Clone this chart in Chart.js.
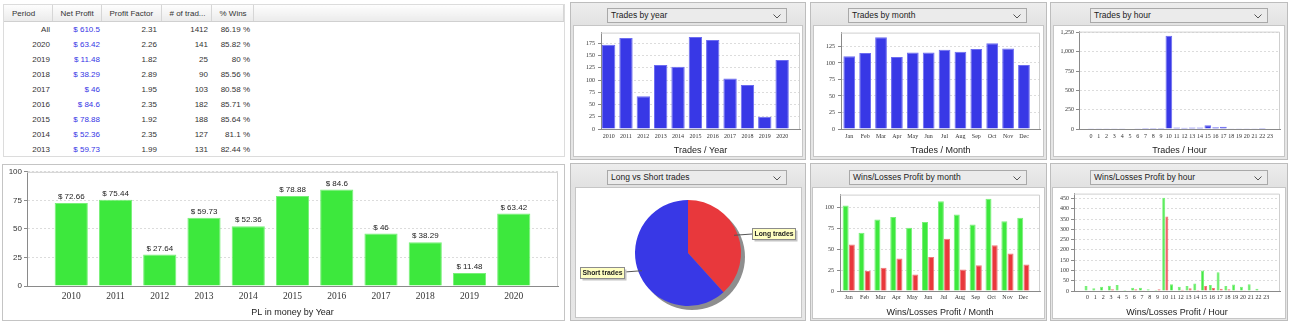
<!DOCTYPE html>
<html>
<head>
<meta charset="utf-8">
<script src="https://cdn.jsdelivr.net/npm/chart.js@4.4.0/dist/chart.umd.min.js"></script>
<style>
  body { margin: 0; width: 1290px; height: 324px; background: #fff; position: relative; overflow: hidden; font-family: "Liberation Sans", Arial, sans-serif; }
  .panel { position: absolute; box-sizing: border-box; border: 1px solid #bdbdbd; background: linear-gradient(#ededed, #e2e2e2 22px, #e6e6e6); }
  .inner { position: absolute; box-sizing: border-box; border: 1px solid #c6c6c6; background: #fff; }
  .dd { position: absolute; box-sizing: border-box; height: 15px; border: 1px solid #a9a9a9; background: #ebebeb; font-size: 8.5px; color: #222; line-height: 13px; padding-left: 3px; }
  .dd svg { position: absolute; right: 5px; top: 5px; }
  canvas { position: absolute; }
  #tabela { position: absolute; left: 3px; top: 4px; width: 562px; height: 153px; border: 1px solid #dcdcdc; box-sizing: border-box; overflow: hidden; background: #fff; }
  #tabela table { border-collapse: collapse; table-layout: fixed; width: 100%; font-size: 8px; color: #333; }
  #tabela th { height: 16px; font-weight: normal; text-align: left; padding: 0 0 0 8px; background: linear-gradient(#fdfdfd, #ebebeb); border-right: 1px solid #d6d6d6; border-bottom: 1px solid #d0d0d0; white-space: nowrap; overflow: hidden; }
  #tabela td { height: 15px; line-height: 15px; text-align: right; padding: 0; white-space: nowrap; }
  #tabela td.azul { color: #3535e5; }
  #painelPL { position: absolute; left: 2px; top: 164px; width: 563px; height: 157px; border: 1px solid #c4c4c4; box-sizing: border-box; }
</style>
</head>
<body>

<div id="tabela">
  <table>
    <colgroup>
      <col style="width:48px"><col style="width:49px"><col style="width:60px"><col style="width:50px"><col style="width:42px"><col>
    </colgroup>
    <thead>
      <tr><th>Period</th><th>Net Profit</th><th>Profit Factor</th><th># of trad...</th><th>% Wins</th><th></th></tr>
    </thead>
    <tbody id="corpo"></tbody>
  </table>
</div>

<div id="painelPL"></div>

<!-- linha de cima -->
<div class="panel" style="left:570px;top:2px;width:236px;height:158px"></div>
<div class="inner" style="left:573px;top:25px;width:230px;height:132px"></div>
<div class="dd" style="left:607px;top:8px;width:180px">Trades by year<svg width="8" height="5"><polyline points="0.5,0.5 4,4 7.5,0.5" fill="none" stroke="#555"/></svg></div>

<div class="panel" style="left:810px;top:2px;width:237px;height:158px"></div>
<div class="inner" style="left:813px;top:25px;width:231px;height:132px"></div>
<div class="dd" style="left:848px;top:8px;width:179px">Trades by month<svg width="8" height="5"><polyline points="0.5,0.5 4,4 7.5,0.5" fill="none" stroke="#555"/></svg></div>

<div class="panel" style="left:1050px;top:2px;width:238px;height:158px"></div>
<div class="inner" style="left:1053px;top:25px;width:232px;height:132px"></div>
<div class="dd" style="left:1090px;top:8px;width:178px">Trades by hour<svg width="8" height="5"><polyline points="0.5,0.5 4,4 7.5,0.5" fill="none" stroke="#555"/></svg></div>

<!-- linha de baixo -->
<div class="panel" style="left:570px;top:163px;width:236px;height:158px"></div>
<div class="inner" style="left:575px;top:187px;width:227px;height:131px"></div>
<div class="dd" style="left:607px;top:170px;width:180px">Long vs Short trades<svg width="8" height="5"><polyline points="0.5,0.5 4,4 7.5,0.5" fill="none" stroke="#555"/></svg></div>

<div class="panel" style="left:810px;top:163px;width:237px;height:158px"></div>
<div class="inner" style="left:812px;top:187px;width:233px;height:132px"></div>
<div class="dd" style="left:849px;top:170px;width:178px">Wins/Losses Profit by month<svg width="8" height="5"><polyline points="0.5,0.5 4,4 7.5,0.5" fill="none" stroke="#555"/></svg></div>

<div class="panel" style="left:1050px;top:163px;width:238px;height:158px"></div>
<div class="inner" style="left:1052px;top:187px;width:234px;height:132px"></div>
<div class="dd" style="left:1090px;top:170px;width:178px">Wins/Losses Profit by hour<svg width="8" height="5"><polyline points="0.5,0.5 4,4 7.5,0.5" fill="none" stroke="#555"/></svg></div>

<canvas id="chart-pl-ano" width="561" height="155" style="left:3px;top:165px"></canvas>
<canvas id="chart-trades-ano" width="228" height="130" style="left:574px;top:26px"></canvas>
<canvas id="chart-trades-mes" width="229" height="130" style="left:814px;top:26px"></canvas>
<canvas id="chart-trades-hora" width="230" height="130" style="left:1054px;top:26px"></canvas>
<canvas id="chart-long-short" width="225" height="129" style="left:576px;top:188px"></canvas>
<canvas id="chart-wl-mes" width="231" height="130" style="left:813px;top:188px"></canvas>
<canvas id="chart-wl-hora" width="232" height="130" style="left:1053px;top:188px"></canvas>

<script>
// --- tabela de resumo ---
const periodos = ["All", "2020", "2019", "2018", "2017", "2016", "2015", "2014", "2013"];
const lucroLiquido = [610.5, 63.42, 11.48, 38.29, 46, 84.6, 78.88, 52.36, 59.73];
const fatorLucro = [2.31, 2.26, 1.82, 2.89, 1.95, 2.35, 1.92, 2.35, 1.99];
const numTrades = [1412, 141, 25, 90, 103, 182, 188, 127, 131];
const pctGanhos = [86.19, 85.82, 80, 85.56, 80.58, 85.71, 85.64, 81.1, 82.44];

// --- lucro por ano ---
const anos = [2010, 2011, 2012, 2013, 2014, 2015, 2016, 2017, 2018, 2019, 2020];
const lucroAno = [72.66, 75.44, 27.64, 59.73, 52.36, 78.88, 84.6, 46, 38.29, 11.48, 63.42];

// --- trades ---
const tradesAno = [172, 186, 67, 131, 127, 188, 182, 103, 90, 25, 141];
const meses = ["Jan", "Feb", "Mar", "Apr", "May", "Jun", "Jul", "Aug", "Sep", "Oct", "Nov", "Dec"];
const tradesMes = [110, 115, 139, 109, 116, 116, 120, 117, 121, 130, 122, 97];
const horas = [0, 1, 2, 3, 4, 5, 6, 7, 8, 9, 10, 11, 12, 13, 14, 15, 16, 17, 18, 19, 20, 21, 22, 23];
const tradesHora = [3, 2, 2, 3, 2, 0, 2, 1, 1, 1, 1208, 18, 17, 18, 20, 50, 22, 29, 4, 3, 2, 3, 1, 0];

// --- long vs short ---
const ladosLabels = ["Long trades", "Short trades"];
const ladosValores = [541, 871];

// --- ganhos / perdas ---
const ganhosMes = [103, 70, 86, 89, 76, 83, 108, 92, 80, 111, 84, 88];
const perdasMes = [56, 24, 28, 39, 20, 41, 63, 26, 31, 55, 45, 32];
const ganhosHora = [24, 13, 21, 25, 29, 5, 16, 16, 8, 5, 454, 33, 21, 24, 37, 100, 29, 91, 24, 32, 21, 33, 11, 3];
const perdasHora = [0, 3, 0, 8, 0, 0, 8, 1, 0, 8, 363, 3, 6, 13, 5, 24, 14, 11, 8, 1, 4, 0, 0, 0];

const azul = "#3838e6";
const azulBorda = "#6c6cf0";
const verde = "#3de83d";
const verdeBorda = "#78f078";
const vermelho = "#e8383c";
const vermelhoBorda = "#f07878";

// preencher tabela
const padDir = [2, 1, 4, 3, 3];
const corpo = document.getElementById("corpo");
periodos.forEach((p, i) => {
  const tr = document.createElement("tr");
  const cels = [p, "$ " + lucroLiquido[i], String(fatorLucro[i]), String(numTrades[i]), pctGanhos[i] + " %"];
  cels.forEach((txt, c) => {
    const td = document.createElement("td");
    td.textContent = txt;
    td.style.paddingRight = padDir[c] + "px";
    if (c === 1) td.className = "azul";
    tr.appendChild(td);
  });
  tr.appendChild(document.createElement("td"));
  corpo.appendChild(tr);
});

// moldura cinza clara em cima e à direita da área do gráfico
const moldura = {
  id: "moldura",
  afterDatasetsDraw(chart) {
    const { ctx, chartArea: a } = chart;
    ctx.save();
    ctx.strokeStyle = "#cfcfcf";
    ctx.lineWidth = 1;
    ctx.beginPath();
    ctx.moveTo(a.left, a.top + 0.5);
    ctx.lineTo(a.right - 0.5, a.top + 0.5);
    ctx.lineTo(a.right - 0.5, a.bottom);
    ctx.stroke();
    ctx.restore();
  },
};

// valores por cima das barras (lucro por ano)
const etiquetasValores = {
  id: "etiquetasValores",
  afterDatasetsDraw(chart) {
    const ctx = chart.ctx;
    ctx.save();
    ctx.font = '8px "Liberation Sans"';
    ctx.fillStyle = "#222";
    ctx.textAlign = "center";
    ctx.textBaseline = "bottom";
    chart.getDatasetMeta(0).data.forEach((bar, i) => {
      ctx.fillText("$ " + lucroAno[i], bar.x, bar.y - 2);
    });
    ctx.restore();
  },
};

// sombra e etiquetas da pizza
const pizzaExtras = {
  id: "pizzaExtras",
  beforeDatasetsDraw(chart) {
    const ctx = chart.ctx;
    const arc = chart.getDatasetMeta(0).data[0];
    ctx.save();
    ctx.fillStyle = "#8e8e8e";
    ctx.beginPath();
    ctx.arc(arc.x + 4, arc.y + 4, arc.outerRadius, 0, Math.PI * 2);
    ctx.fill();
    ctx.restore();
  },
  afterDatasetsDraw(chart) {
    const ctx = chart.ctx;
    ctx.save();
    ctx.font = 'bold 6.8px "Liberation Sans"';
    chart.getDatasetMeta(0).data.forEach((arc, i) => {
      const txt = ladosLabels[i];
      const meio = (arc.startAngle + arc.endAngle) / 2;
      const r = arc.outerRadius;
      const px = arc.x + Math.cos(meio) * r * 0.93;
      const py = arc.y + Math.sin(meio) * r * 0.93;
      const ly = arc.y + Math.sin(meio) * r;
      const direita = Math.cos(meio) >= 0;
      const bw = Math.round(ctx.measureText(txt).width) + 4;
      const bh = 11;
      const bx = Math.round(direita ? arc.x + r + 11 : arc.x - r - 11 - bw) + 0.5;
      const by = Math.round(ly - bh / 2) + 0.5;
      ctx.strokeStyle = "#555";
      ctx.lineWidth = 1;
      ctx.beginPath();
      ctx.moveTo(px, py);
      ctx.lineTo(direita ? bx : bx + bw, ly);
      ctx.stroke();
      ctx.fillStyle = "#c4c4c4";
      ctx.fillRect(bx + 2, by + 2, bw, bh);
      ctx.fillStyle = "#ffffc2";
      ctx.fillRect(bx, by, bw, bh);
      ctx.strokeStyle = "#8c8c8c";
      ctx.strokeRect(bx, by, bw, bh);
      ctx.fillStyle = "#222";
      ctx.textAlign = "center";
      ctx.textBaseline = "middle";
      ctx.fillText(txt, bx + bw / 2, by + bh / 2 + 0.5);
    });
    ctx.restore();
  },
};

// opções comuns dos gráficos de barras (eixo x linear para controlar as margens)
function opcoesBarras(o) {
  return {
    responsive: false,
    animation: false,
    layout: { padding: { top: o.padT, right: o.padR, left: 0, bottom: 0 } },
    plugins: { legend: { display: false }, tooltip: { enabled: false } },
    scales: {
      x: {
        type: "linear",
        min: o.xMin,
        max: o.xMax,
        offset: false,
        afterBuildTicks: (s) => {
          s.ticks = o.xTicks.map((v) => ({ value: v }));
        },
        afterFit: (s) => {
          s.height = o.xH;
        },
        grid: { display: false, drawTicks: false, tickLength: 0 },
        border: { color: "#8a8a8a" },
        ticks: {
          font: o.xFont,
          color: "#333",
          padding: o.xPad,
          autoSkip: false,
          maxRotation: 0,
          minRotation: 0,
          callback: o.xLabel,
        },
        title: {
          display: true,
          text: o.titulo,
          font: o.tituloFont,
          color: "#222",
          padding: { top: 0, bottom: o.tituloPad },
        },
      },
      y: {
        min: 0,
        max: o.yMax,
        afterBuildTicks: (s) => {
          s.ticks = o.yTicks.map((v) => ({ value: v }));
        },
        afterFit: (s) => {
          s.width = o.yW;
        },
        grid: { color: "#dcdcdc", tickColor: "#8a8a8a", tickLength: 3 },
        border: { color: "#8a8a8a", dash: [2, 2] },
        ticks: { font: o.yFont, color: "#333", padding: o.yPad },
      },
    },
  };
}

function pontos(xs, ys) {
  return xs.map((x, i) => ({ x: x, y: ys[i] }));
}

const fonteMini = { family: "Liberation Serif", size: 6 };
const fonteTitulo = { family: "Liberation Sans", size: 9 };
const idx = meses.map((m, i) => i);

// PL por ano
new Chart(document.getElementById("chart-pl-ano"), {
  type: "bar",
  data: {
    datasets: [{
      data: pontos(anos, lucroAno),
      backgroundColor: verde,
      borderColor: verdeBorda,
      borderWidth: 1,
      categoryPercentage: 1,
      barPercentage: 0.75,
    }],
  },
  options: opcoesBarras({
    padT: 5, padR: 6, xMin: 2009, xMax: 2021, xTicks: anos, xH: 34, yW: 24,
    xFont: { family: "Liberation Serif", size: 9.5 }, xPad: 5,
    xLabel: (v) => String(v),
    titulo: "PL in money by Year", tituloFont: fonteTitulo, tituloPad: 2,
    yMax: 100, yTicks: [0, 25, 50, 75, 100],
    yFont: { family: "Liberation Sans", size: 8 }, yPad: 2,
  }),
  plugins: [moldura, etiquetasValores],
});

// Trades por ano
new Chart(document.getElementById("chart-trades-ano"), {
  type: "bar",
  data: {
    datasets: [{
      data: pontos(anos, tradesAno),
      backgroundColor: azul,
      borderColor: azulBorda,
      borderWidth: 1,
      categoryPercentage: 1,
      barPercentage: 0.77,
    }],
  },
  options: opcoesBarras({
    padT: 3, padR: 2, xMin: 2009.56, xMax: 2021.03, xTicks: anos, xH: 27, yW: 27,
    xFont: fonteMini, xPad: 4, xLabel: (v) => String(v),
    titulo: "Trades / Year", tituloFont: fonteTitulo, tituloPad: 0,
    yMax: 197, yTicks: [0, 25, 50, 75, 100, 125, 150, 175],
    yFont: fonteMini, yPad: 3,
  }),
  plugins: [moldura],
});

// Trades por mês
new Chart(document.getElementById("chart-trades-mes"), {
  type: "bar",
  data: {
    datasets: [{
      data: pontos(idx, tradesMes),
      backgroundColor: azul,
      borderColor: azulBorda,
      borderWidth: 1,
      categoryPercentage: 1,
      barPercentage: 0.74,
    }],
  },
  options: opcoesBarras({
    padT: 3, padR: 3, xMin: -0.52, xMax: 12.01, xTicks: idx, xH: 27, yW: 27,
    xFont: fonteMini, xPad: 4, xLabel: (v) => meses[v],
    titulo: "Trades / Month", tituloFont: fonteTitulo, tituloPad: 0,
    yMax: 146, yTicks: [0, 25, 50, 75, 100, 125],
    yFont: fonteMini, yPad: 3,
  }),
  plugins: [moldura],
});

// Trades por hora
new Chart(document.getElementById("chart-trades-hora"), {
  type: "bar",
  data: {
    datasets: [{
      data: pontos(horas, tradesHora),
      backgroundColor: azul,
      borderColor: azulBorda,
      borderWidth: 1,
      categoryPercentage: 1,
      barPercentage: 0.86,
    }],
  },
  options: opcoesBarras({
    padT: 3, padR: 4, xMin: -1.54, xMax: 24.27, xTicks: horas, xH: 27, yW: 25,
    xFont: fonteMini, xPad: 4, xLabel: (v) => String(v),
    titulo: "Trades / Hour", tituloFont: fonteTitulo, tituloPad: 0,
    yMax: 1262, yTicks: [0, 250, 500, 750, 1000, 1250],
    yFont: fonteMini, yPad: 2,
  }),
  plugins: [moldura],
});

// Long vs Short
new Chart(document.getElementById("chart-long-short"), {
  type: "pie",
  data: {
    labels: ladosLabels,
    datasets: [{
      data: ladosValores,
      backgroundColor: [vermelho, azul],
      borderWidth: 0,
    }],
  },
  options: {
    responsive: false,
    animation: false,
    layout: { padding: { left: 59, top: 12, right: 60, bottom: 11 } },
    plugins: { legend: { display: false }, tooltip: { enabled: false } },
  },
  plugins: [pizzaExtras],
});

// Ganhos/perdas por mês
new Chart(document.getElementById("chart-wl-mes"), {
  type: "bar",
  data: {
    datasets: [
      { data: pontos(idx, ganhosMes), backgroundColor: verde, borderColor: verdeBorda, borderWidth: 1, categoryPercentage: 0.78, barPercentage: 0.97 },
      { data: pontos(idx, perdasMes), backgroundColor: vermelho, borderColor: vermelhoBorda, borderWidth: 1, categoryPercentage: 0.78, barPercentage: 0.97 },
    ],
  },
  options: opcoesBarras({
    padT: 4, padR: 4, xMin: -0.55, xMax: 12.05, xTicks: idx, xH: 27, yW: 27,
    xFont: fonteMini, xPad: 3, xLabel: (v) => meses[v],
    titulo: "Wins/Losses Profit / Month", tituloFont: fonteTitulo, tituloPad: 0,
    yMax: 116, yTicks: [0, 25, 50, 75, 100],
    yFont: fonteMini, yPad: 3,
  }),
  plugins: [moldura],
});

// Ganhos/perdas por hora
new Chart(document.getElementById("chart-wl-hora"), {
  type: "bar",
  data: {
    datasets: [
      { data: pontos(horas, ganhosHora), backgroundColor: verde, borderColor: verdeBorda, borderWidth: 1, categoryPercentage: 0.8, barPercentage: 0.97 },
      { data: pontos(horas, perdasHora), backgroundColor: vermelho, borderColor: vermelhoBorda, borderWidth: 1, categoryPercentage: 0.8, barPercentage: 0.97 },
    ],
  },
  options: opcoesBarras({
    padT: 4, padR: 5, xMin: -1.75, xMax: 24.77, xTicks: horas, xH: 27, yW: 21,
    xFont: fonteMini, xPad: 3, xLabel: (v) => String(v),
    titulo: "Wins/Losses Profit / Hour", tituloFont: fonteTitulo, tituloPad: 0,
    yMax: 474, yTicks: [0, 50, 100, 150, 200, 250, 300, 350, 400, 450],
    yFont: fonteMini, yPad: 2,
  }),
  plugins: [moldura],
});
</script>
</body>
</html>
